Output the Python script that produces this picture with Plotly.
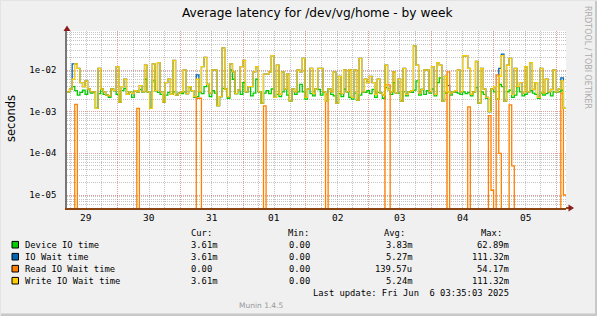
import plotly.graph_objects as go
import pandas as pd

# ---------------- data (milliseconds, one bin ~1 h) ----------------
start = pd.Timestamp("2025-05-29 04:37")
end = pd.Timestamp("2025-06-06 03:35")

write_ms = [
    3.0, 3.5, 6, 14, 11, 5, 4, 5.5, 3.5, 3,
    3, 1.2, 11, 3.5, 3.0, 2.5, 2.4, 3.5, 3.2, 12,
    1.7, 4, 6, 2.6, 3, 2.7, 3.2, 3, 4.2, 3.0,
    13, 3, 1.2, 14, 3.2, 15, 3, 1.7, 5, 6,
    2.6, 17, 2.5, 2.8, 3, 10, 2.7, 4, 3.2, 2.3,
    6, 3, 12, 20, 4.5, 2.8, 10, 10, 1.4, 2.3,
    34, 3.5, 2.3, 14, 9, 2.7, 3.3, 12, 17, 3,
    4, 4, 9, 12, 3, 1.6, 8, 8, 9, 22,
    2.2, 13, 2.6, 9, 3.5, 8, 1.8, 3.5, 3, 10,
    9, 19, 2.2, 3.5, 11, 2.7, 3.5, 11, 11, 3,
    1.8, 3.5, 3, 9, 1.6, 7, 2.7, 10, 3, 10,
    2.2, 10, 1.9, 19, 3, 6, 5, 7, 5, 2.6,
    6, 2.8, 2.5, 13, 3.4, 3, 9, 2.8, 6, 1.8,
    11, 2.6, 3, 3.2, 38, 13, 2.8, 3.4, 10, 10,
    3, 12, 2.6, 15, 13, 1.8, 7, 3, 2.8, 3,
    3.2, 10, 3, 22, 22, 11, 2.6, 3, 16, 1.6,
    11, 3.5, 2.2, 1.0, 3.5, 4, 2, 7, 22, 1.8,
    13, 19, 2.6, 11, 4, 5, 2.8, 12, 3, 15,
    3.4, 5, 2.2, 11, 2.8, 6, 3, 3.4, 10, 3,
    3.5, 5.5, 1.2,
]

iowait_ms = [
    3.0, 3.5, 14, 14, 11, 5, 4, 5.5, 3.5, 3,
    3, 1.2, 11, 3.5, 3.0, 2.5, 2.4, 3.5, 3.2, 12,
    1.7, 4, 6, 2.6, 3, 2.7, 3.2, 3, 4.2, 3.0,
    13, 3, 1.2, 14, 3.2, 15, 3, 1.7, 5, 6,
    2.6, 17, 2.5, 2.8, 3, 10, 2.7, 4, 3.2, 2.3,
    7.6, 3, 12, 20, 4.5, 2.8, 10, 10, 1.4, 2.3,
    34, 3.5, 2.3, 14, 9, 2.7, 3.3, 12, 17, 3,
    4, 4, 9, 12, 3, 1.6, 8, 8, 9, 22,
    2.2, 13, 2.6, 9, 3.5, 8, 1.8, 3.5, 3, 10,
    9, 19, 2.2, 3.5, 11, 2.7, 3.5, 11, 11, 3,
    1.8, 3.5, 3, 9, 1.6, 7, 2.7, 10, 3, 10,
    2.2, 10, 1.9, 19, 3, 6, 5, 7, 5, 2.6,
    6, 2.8, 2.5, 13, 3.4, 3, 9, 2.8, 6, 1.8,
    11, 2.6, 3, 3.2, 38, 13, 2.8, 3.4, 10, 10,
    3, 12, 2.6, 15, 13, 1.8, 7, 4.2, 2.8, 3,
    3.2, 10, 3, 22, 22, 11, 2.6, 3, 16, 1.6,
    11, 3.5, 2.2, 1.0, 3.5, 4, 2, 11, 24, 1.8,
    13, 19, 2.6, 11, 4, 5, 2.8, 12, 3, 15,
    3.4, 5, 2.2, 11, 2.8, 6, 3, 3.4, 10, 3,
    3.5, 6.5, 1.2,
]

device_ms = [
    3.0, 3.5, 4, 3.2, 2.5, 2.9, 3.3, 2.6, 3.5, 2.8,
    3.0, 1.2, 2.7, 3.5, 2.6, 2.5, 2.2, 3.5, 3.2, 2.6,
    1.7, 3.2, 3.6, 2.6, 3, 2.2, 3.2, 3, 3.4, 3.0,
    6.0, 3, 1.2, 5.5, 3.2, 2.9, 2.6, 1.7, 2.5, 2.9,
    2.6, 3.0, 2.5, 2.8, 2.7, 3.0, 2.7, 4, 3.2, 2.2,
    2.3, 3, 2.7, 4.0, 4.5, 2.3, 3.2, 2.8, 1.4, 2.3,
    3.6, 3.5, 2.1, 10, 6, 2.7, 3.3, 2.6, 5.0, 3,
    4, 2.4, 2.8, 6.0, 3, 1.6, 2.8, 3.2, 2.7, 3.5,
    2.2, 2.6, 2.3, 3.0, 3.5, 2.5, 1.8, 3.5, 2.6, 3.0,
    4.5, 3.0, 2.0, 3.5, 2.7, 2.4, 3.5, 3.4, 2.5, 3,
    1.8, 3.5, 2.6, 2.4, 1.6, 2.7, 2.3, 3.5, 3, 2.2,
    2.0, 2.8, 1.9, 2.5, 3, 2.9, 3.2, 2.7, 3.4, 2.2,
    2.9, 2.8, 2.1, 3.8, 3.4, 2.6, 5.0, 2.8, 2.8, 1.8,
    3.0, 2.4, 3, 2.9, 3.3, 5.5, 2.5, 3.4, 2.6, 3.2,
    2.8, 3.5, 2.4, 5.0, 6.5, 1.8, 2.8, 3, 2.5, 3,
    2.9, 2.8, 2.6, 3.0, 2.7, 2.9, 2.4, 3, 3.8, 1.6,
    3.0, 2.6, 2.1, 1.0, 3.5, 3.0, 2.0, 4.5, 4.0, 1.8,
    3.0, 3.3, 2.2, 2.5, 4, 3.0, 2.4, 2.6, 3, 3.2,
    2.8, 2.6, 2.1, 2.8, 2.5, 2.7, 3, 2.4, 3.0, 3,
    3.0, 3.3, 1.2,
]

read_ms = [
    0, 0, 0, 1.5, 0, 0, 0, 0, 0, 0,
    0, 0, 0, 0, 0, 0, 0, 0, 0, 0,
    0, 0, 0, 0, 0, 0, 0, 1.2, 0, 0,
    0, 0, 0, 0, 0, 0, 0, 0, 0, 0,
    0, 0, 0, 0, 0, 0, 0, 0, 0, 0,
    2.1, 2.1, 0, 0, 0, 0, 0, 0, 0, 0,
    0, 0, 0, 0, 0, 0, 0, 0, 0, 0,
    0, 0, 0, 0, 0, 0, 1.37, 0, 0, 0,
    0, 0, 0, 0, 0, 0, 0, 0, 0, 0,
    0, 0, 0, 0, 0, 0, 0, 0, 0, 0,
    2.65, 0, 0, 0, 0, 0, 0, 0, 0, 0,
    0, 0, 0, 0, 0, 0, 0, 0, 0, 0,
    0, 0, 0, 4.4, 4.4, 0, 0, 0, 0, 0,
    0, 0, 0, 0, 0, 0, 0, 0, 0, 0,
    0, 0, 0, 0, 0, 0, 0, 9, 0, 0,
    0, 0, 0, 0, 0, 1.3, 0, 0, 0, 0,
    0, 0, 0, 0.8, 0.013, 0, 7.6, 0.1, 0, 0,
    0, 1.45, 0.05, 0, 0, 0, 0, 0, 0, 0,
    0, 0, 0, 0, 0, 0, 0, 0, 0, 0,
    0, 2.8, 0.01,
]

series_names = ["Device IO time", "IO Wait time", "Read IO Wait time", "Write IO Wait time"]
series_colors = ["#00CC00", "#0066B3", "#FF8000", "#FFCC00"]
series_data = [device_ms, iowait_ms, read_ms, write_ms]
stat_cur = ["3.61m", "3.61m", "0.00", "3.61m"]
stat_min = ["0.00", "0.00", "0.00", "0.00"]
stat_avg = ["3.83m", "5.27m", "139.57u", "5.24m"]
stat_max = ["62.89m", "111.32m", "54.17m", "111.32m"]

day_labels = ["29", "30", "31", "01", "02", "03", "04", "05"]
day_noons = pd.date_range("2025-05-29 12:00", periods=8, freq="D")

ytick_vals = [1e-5, 1e-4, 1e-3, 1e-2]
ytick_text = ["1e-05", "1e-04", "1e-03", "1e-02"]

# ---------------- layout helpers ----------------
W, H = 597, 316
L, R, T, B = 67, 566, 31, 208


def px2x(px):
    return (px - L) / (R - L)


def py2y(py):
    return (B - py) / (B - T)


MONO = "DejaVu Sans Mono"
SANS = "DejaVu Sans"
FLOOR = 1e-9  # zero values drawn below the log axis (clipped, like rrdtool)

fig = go.Figure()

for name, color, data in zip(series_names, series_colors, series_data):
    n = len(data)
    step = (end - start) / n
    xs = [start + step * i for i in range(n + 1)]
    ys = [max(v * 1e-3, FLOOR) for v in data] + [max(data[-1] * 1e-3, FLOOR)]
    fig.add_trace(go.Scatter(x=xs, y=ys, mode="lines", name=name,
                             line=dict(color=color, width=1.3, shape="hv"),
                             hoverinfo="skip", showlegend=False))

minor_y = [m * 10.0 ** e for e in range(-6, -1) for m in range(2, 10)]

fig.update_layout(
    width=W, height=H,
    margin=dict(l=L, r=W - R, t=T, b=H - B, pad=0),
    paper_bgcolor="#F0F0F0",
    plot_bgcolor="#FFFFFF",
    showlegend=False,
    xaxis=dict(
        type="date",
        range=[start, end],
        tick0="2025-05-30", dtick=86400000,
        showticklabels=False, ticks="",
        showgrid=True, gridcolor="rgba(205,80,80,0.55)", griddash="1px,1px", gridwidth=1,
        minor=dict(dtick=6 * 3600 * 1000, tick0="2025-05-29", showgrid=True,
                   gridcolor="rgba(150,150,150,0.55)", griddash="1px,1px", gridwidth=1, ticks=""),
        showline=True, linecolor="#8B4513", linewidth=2,
        zeroline=False, fixedrange=True,
    ),
    yaxis=dict(
        type="log",
        range=[-5.312, -1.064],
        tickmode="array", tickvals=ytick_vals, ticktext=ytick_text,
        tickfont=dict(family=MONO, size=9, color="#000000"),
        ticks="", ticklabelstandoff=7,
        showgrid=True, gridcolor="rgba(205,80,80,0.55)", griddash="1px,1px", gridwidth=1,
        minor=dict(tickmode="array", tickvals=minor_y, showgrid=True,
                   gridcolor="rgba(150,150,150,0.55)", griddash="1px,1px", gridwidth=1, ticks=""),
        showline=True, linecolor="#777777", linewidth=1.5,
        zeroline=False, fixedrange=True,
    ),
)

ann = []
# title
ann.append(dict(text="Average latency for /dev/vg/home - by week", x=px2x(317), y=py2y(13),
                xref="paper", yref="paper", xanchor="center", yanchor="middle", showarrow=False,
                font=dict(family=SANS, size=12.2, color="#000000")))
# y axis title
ann.append(dict(text="seconds", x=px2x(11), y=py2y(119), xref="paper", yref="paper",
                xanchor="center", yanchor="middle", textangle=-90, showarrow=False,
                font=dict(family=SANS, size=11.5, color="#000000")))
# right side credit
ann.append(dict(text="RRDTOOL / TOBI OETIKER", x=px2x(588), y=py2y(57), xref="paper", yref="paper",
                xanchor="center", yanchor="middle", textangle=90, showarrow=False,
                font=dict(family=SANS, size=8, color="#ABABAB")))
# day labels
for d, lab in zip(day_noons, day_labels):
    ann.append(dict(text=lab, x=d, y=py2y(217.5), xref="x", yref="paper",
                    xanchor="center", yanchor="middle", showarrow=False,
                    font=dict(family=MONO, size=9.5, color="#000000")))
# legend headers
for hx, ht in zip([189, 286, 382, 479], ["Cur:", "Min:", "Avg:", "Max:"]):
    ann.append(dict(text=ht, x=px2x(hx), y=py2y(233), xref="paper", yref="paper",
                    xanchor="left", yanchor="middle", showarrow=False,
                    font=dict(family=MONO, size=8.8, color="#000000")))
col_ends = [219, 317, 414, 511]
row_y = [244.7, 256.7, 268.7, 280.7]
shapes = []
for k, (name, color) in enumerate(zip(series_names, series_colors)):
    ry = row_y[k]
    shapes.append(dict(type="rect", xref="paper", yref="paper",
                       x0=px2x(12), x1=px2x(18.5), y0=py2y(ry + 3.3), y1=py2y(ry - 3.3),
                       fillcolor=color, line=dict(color="#000000", width=1)))
    ann.append(dict(text=name, x=px2x(23), y=py2y(ry), xref="paper", yref="paper",
                    xanchor="left", yanchor="middle", showarrow=False,
                    font=dict(family=MONO, size=8.8, color="#000000")))
    for ce, val in zip(col_ends, [stat_cur[k], stat_min[k], stat_avg[k], stat_max[k]]):
        right = ce if val[-1].isalpha() else ce - 5.2
        ann.append(dict(text=val, x=px2x(right), y=py2y(ry), xref="paper", yref="paper",
                        xanchor="right", yanchor="middle", showarrow=False,
                        font=dict(family=MONO, size=8.8, color="#000000")))
ann.append(dict(text="Last update: Fri Jun \u00a06 03:35:03 2025", x=px2x(511), y=py2y(292.5),
                xref="paper", yref="paper", xanchor="right", yanchor="middle", showarrow=False,
                font=dict(family=MONO, size=8.8, color="#000000")))
ann.append(dict(text="Munin 1.4.5", x=px2x(261), y=py2y(305), xref="paper", yref="paper",
                xanchor="center", yanchor="middle", showarrow=False,
                font=dict(family=SANS, size=7.5, color="#999999")))

# axis arrows
shapes.append(dict(type="path", xref="paper", yref="paper",
                   path=f"M {px2x(63.5)},{py2y(31)} L {px2x(70.5)},{py2y(31)} L {px2x(67)},{py2y(25.5)} Z",
                   fillcolor="#8B1A1A", line=dict(width=0)))
shapes.append(dict(type="line", xref="paper", yref="paper", x0=px2x(566), x1=px2x(569),
                   y0=py2y(208), y1=py2y(208), line=dict(color="#8B4513", width=2)))
shapes.append(dict(type="path", xref="paper", yref="paper",
                   path=f"M {px2x(568.5)},{py2y(204.5)} L {px2x(568.5)},{py2y(211.5)} L {px2x(574)},{py2y(208)} Z",
                   fillcolor="#8B1A1A", line=dict(width=0)))
# image frame
shapes.append(dict(type="rect", xref="paper", yref="paper", x0=px2x(595), x1=px2x(597),
                   y0=py2y(316), y1=py2y(0), fillcolor="#C8C8C8", line=dict(width=0)))
shapes.append(dict(type="rect", xref="paper", yref="paper", x0=px2x(0), x1=px2x(597),
                   y0=py2y(316), y1=py2y(313.5), fillcolor="#C8C8C8", line=dict(width=0)))
shapes.append(dict(type="rect", xref="paper", yref="paper", x0=px2x(0), x1=px2x(597),
                   y0=py2y(1), y1=py2y(0), fillcolor="#E4E4E4", line=dict(width=0)))
shapes.append(dict(type="rect", xref="paper", yref="paper", x0=px2x(0), x1=px2x(1),
                   y0=py2y(316), y1=py2y(0), fillcolor="#E4E4E4", line=dict(width=0)))

fig.update_layout(annotations=ann, shapes=shapes)
fig.write_html("out.html", config={"displayModeBar": False},
               post_script="document.body.style.margin='0';document.body.style.overflow='hidden';")
